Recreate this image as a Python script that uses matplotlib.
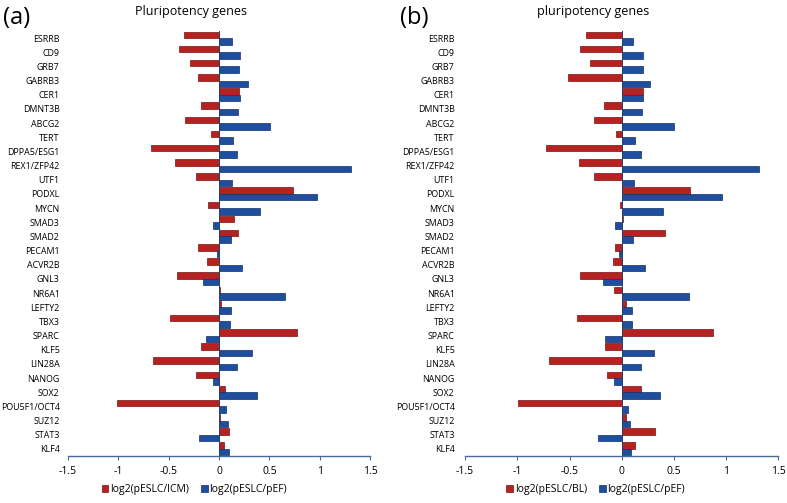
import matplotlib.pyplot as plt
import numpy as np

genes = ['ESRRB', 'CD9', 'GRB7', 'GABRB3', 'CER1', 'DMNT3B', 'ABCG2', 'TERT',
         'DPPA5/ESG1', 'REX1/ZFP42', 'UTF1', 'PODXL', 'MYCN', 'SMAD3', 'SMAD2',
         'PECAM1', 'ACVR2B', 'GNL3', 'NR6A1', 'LEFTY2', 'TBX3', 'SPARC', 'KLF5',
         'LIN28A', 'NANOG', 'SOX2', 'POU5F1/OCT4', 'SUZ12', 'STAT3', 'KLF4']

# panel (a)
icm = [-0.35, -0.40, -0.29, -0.21, 0.20, -0.18, -0.34, -0.085, -0.68, -0.44,
       -0.23, 0.73, -0.11, 0.15, 0.19, -0.21, -0.12, -0.42, 0.013, 0.02,
       -0.49, 0.77, -0.18, -0.66, -0.23, 0.056, -1.01, 0.01, 0.10, 0.046]
pef_a = [0.125, 0.21, 0.20, 0.29, 0.21, 0.19, 0.51, 0.14, 0.18, 1.31,
         0.125, 0.97, 0.41, -0.056, 0.115, -0.016, 0.23, -0.16, 0.65, 0.115,
         0.11, -0.135, 0.33, 0.18, -0.06, 0.38, 0.072, 0.09, -0.20, 0.10]

# panel (b)
bl = [-0.345, -0.40, -0.30, -0.51, 0.20, -0.17, -0.265, -0.058, -0.73, -0.41,
      -0.265, 0.65, -0.02, 0.01, 0.41, -0.064, -0.08, -0.40, -0.073, 0.04,
      -0.43, 0.87, -0.157, -0.70, -0.14, 0.18, -0.99, 0.04, 0.32, 0.125]
pef_b = [0.105, 0.20, 0.20, 0.27, 0.20, 0.19, 0.50, 0.13, 0.18, 1.31,
         0.115, 0.96, 0.40, -0.064, 0.105, -0.026, 0.22, -0.18, 0.64, 0.10,
         0.10, -0.157, 0.31, 0.18, -0.073, 0.37, 0.058, 0.083, -0.23, 0.09]

ticks = [-1.5, -1, -0.5, 0, 0.5, 1, 1.5]
tick_labels = ['-1.5', '-1', '-0.5', '0', '0.5', '1', '1.5']

RED = '#B52220'
BLUE = '#1F4E9E'
font = ['Open Sans', 'DejaVu Sans']
narrow = ['Liberation Sans Narrow', 'Open Sans', 'DejaVu Sans']

fig = plt.figure(figsize=(7.87, 5.03), dpi=100)


def draw_panel(rect, red_vals, blue_vals, red_label, letter, title, title_x, leg_x, ypad):
    ax = fig.add_axes(rect)
    n = len(genes)
    pos = np.arange(n)[::-1]
    h = 0.46
    ax.barh(pos + h / 2, red_vals, height=h, color=RED, edgecolor='#7a1010',
            linewidth=0.5, label=red_label)
    ax.barh(pos - h / 2, blue_vals, height=h, color=BLUE, edgecolor='#0d2f6e',
            linewidth=0.5, label='log2(pESLC/pEF)')
    ax.axvline(0, color='#2b3f6e', linewidth=0.7)
    ax.set_xlim(-1.5, 1.5)
    ax.set_ylim(-0.5, n - 0.5)
    ax.set_yticks(pos)
    ax.set_yticklabels(genes, family=narrow, fontsize=6.4)
    ax.tick_params(axis='y', length=0, pad=ypad)
    ax.set_xticks(ticks)
    ax.set_xticklabels(tick_labels, family=narrow, fontsize=7.5)
    ax.tick_params(axis='x', direction='out', length=3, color='#4a6a9a', pad=4)
    for s in ['top', 'right', 'left']:
        ax.spines[s].set_visible(False)
    ax.spines['bottom'].set_color('#4a6a9a')
    ax.spines['bottom'].set_linewidth(1.0)
    fig.text(rect[0] - 0.083, 0.965, letter, family=font, fontsize=17, va='center', ha='left')
    fig.text(title_x, 0.978, title, family=font, fontsize=9, ha='center', va='center')
    fig.legend(*ax.get_legend_handles_labels(), loc='center', ncol=2,
               bbox_to_anchor=(leg_x, 0.026), frameon=False, handlelength=0.6,
               handleheight=0.6, handletextpad=0.2, columnspacing=1.2,
               prop={'family': narrow, 'size': 7.5})
    return ax


draw_panel([0.0864, 0.0934, 0.384, 0.845], icm, pef_a, 'log2(pESLC/ICM)',
           '(a)', 'Pluripotency genes', 191 / 787, 0.247, 6)
draw_panel([0.591, 0.0934, 0.398, 0.845], bl, pef_b, 'log2(pESLC/BL)',
           '(b)', 'pluripotency genes', 593 / 787, 0.757, 7.5)

fig.savefig('out.png', dpi=100)
